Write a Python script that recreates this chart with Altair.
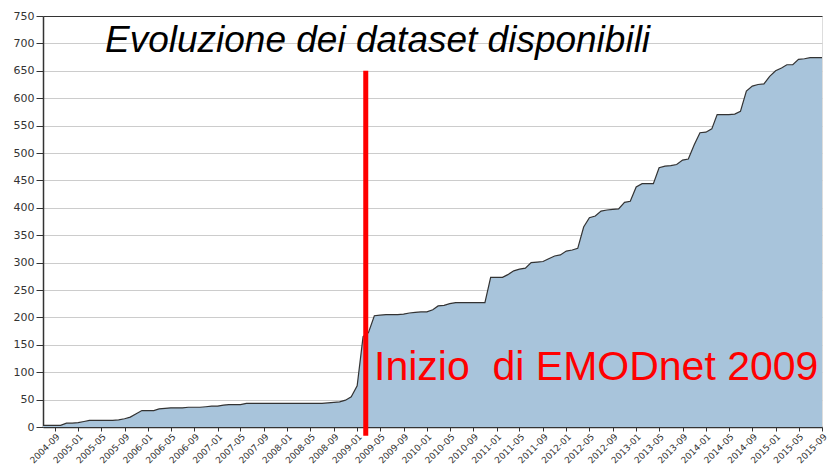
import altair as alt
import pandas as pd

# ---- data ----
months = pd.date_range("2004-07-01", "2015-09-01", freq="MS").strftime("%Y-%m-%d").tolist()
datasets = [3, 3, 3, 3, 7, 7, 8, 10, 12, 12,
            12, 12, 12, 13, 15, 18, 24, 30, 30, 30,
            33, 34, 35, 35, 35, 36, 36, 36, 37, 38,
            38, 40, 41, 41, 41, 43, 43, 43, 43, 43,
            43, 43, 43, 43, 43, 43, 43, 43, 43, 44,
            45, 46, 49, 55, 75, 165, 172, 203, 204, 205,
            205, 205, 206, 208, 209, 210, 210, 214, 221, 222,
            225, 227, 227, 227, 227, 227, 227, 273, 273, 273,
            278, 285, 288, 290, 300, 301, 302, 307, 312, 314,
            321, 323, 326, 365, 382, 385, 394, 396, 397, 398,
            410, 412, 438, 444, 444, 444, 473, 476, 477, 479,
            487, 489, 515, 537, 538, 544, 570, 570, 570, 571,
            576, 613, 622, 625, 626, 640, 650, 655, 661, 661,
            671, 672, 674, 674, 674]
tick_dates = pd.date_range("2004-09-01", "2015-09-01", freq="4MS")
tick_values = [int(t.value // 10**6) for t in tick_dates]
y_ticks = list(range(0, 751, 50))

title_text = "Evoluzione dei dataset disponibili"
marker_text = "Inizio\u00a0 di EMODnet 2009"
marker_date = "2009-02-15"
marker_top = 650
marker_bottom = -16

df = pd.DataFrame({"date": months, "n": datasets})
marker_df = pd.DataFrame({"date": [marker_date], "n": [marker_top], "bottom": [marker_bottom]})

x_domain = [int(pd.Timestamp(months[0]).value // 10**6), int(pd.Timestamp(months[-1]).value // 10**6)]

x_scale = alt.Scale(type="utc", domain=x_domain, nice=False)
x_axis = alt.Axis(
    values=tick_values, labelExpr="utcFormat(datum.value, '%Y-%m')", labelAngle=-45,
    labelAlign="right", labelBaseline="top",
    labelFontSize=9, labelFont="DejaVu Sans", labelColor="#333333",
    tickSize=4, tickColor="#333333", domainColor="#333333", domainWidth=1.5,
    grid=False, title=None, labelPadding=1, labelOverlap=False, labelBound=False,
)
y_scale = alt.Scale(domain=[0, 750], nice=False, zero=True)
y_axis = alt.Axis(
    values=y_ticks, labelFontSize=11, labelFont="DejaVu Sans", labelColor="#333333",
    tickSize=7, tickColor="#333333", domainColor="#333333", domainWidth=1.5,
    gridColor={"condition": {"test": "datum.value === 750", "value": "#333333"}, "value": "#cccccc"},
    title=None, labelPadding=2, labelOverlap=False,
)

def xe():
    return alt.X("date:T", scale=x_scale, axis=x_axis)

def ye():
    return alt.Y("n:Q", scale=y_scale, axis=y_axis)

base = alt.Chart(df)
area = base.mark_area(color="#a8c4db", opacity=1).encode(x=xe(), y=ye())
line = base.mark_line(color="#333333", strokeWidth=1.2).encode(x=xe(), y=ye())

rule = alt.Chart(marker_df).mark_rule(color="#ff0000", strokeWidth=5).encode(
    x=xe(), y=ye(), y2="bottom:Q"
)

title = alt.Chart(pd.DataFrame({"t": [title_text]})).mark_text(
    font="Liberation Sans", fontStyle="italic", fontSize=37, color="#000000",
    align="left", baseline="alphabetic",
).encode(text="t:N", x=alt.value(62), y=alt.value(36))

marker_label = alt.Chart(pd.DataFrame({"t": [marker_text]})).mark_text(
    font="Liberation Sans", fontSize=41, color="#ff0000",
    align="left", baseline="alphabetic",
).encode(text="t:N", x=alt.value(331), y=alt.value(364))

chart = alt.layer(area, line, rule, title, marker_label).properties(
    width=779, height=411,
    autosize=alt.AutoSizeParams(type="none"),
    padding={"left": 35, "top": 8, "right": 8, "bottom": 37},
).configure_view(stroke="#cccccc").configure(background="white")

chart.save("out.html", embed_options={"renderer": "svg", "actions": False})
